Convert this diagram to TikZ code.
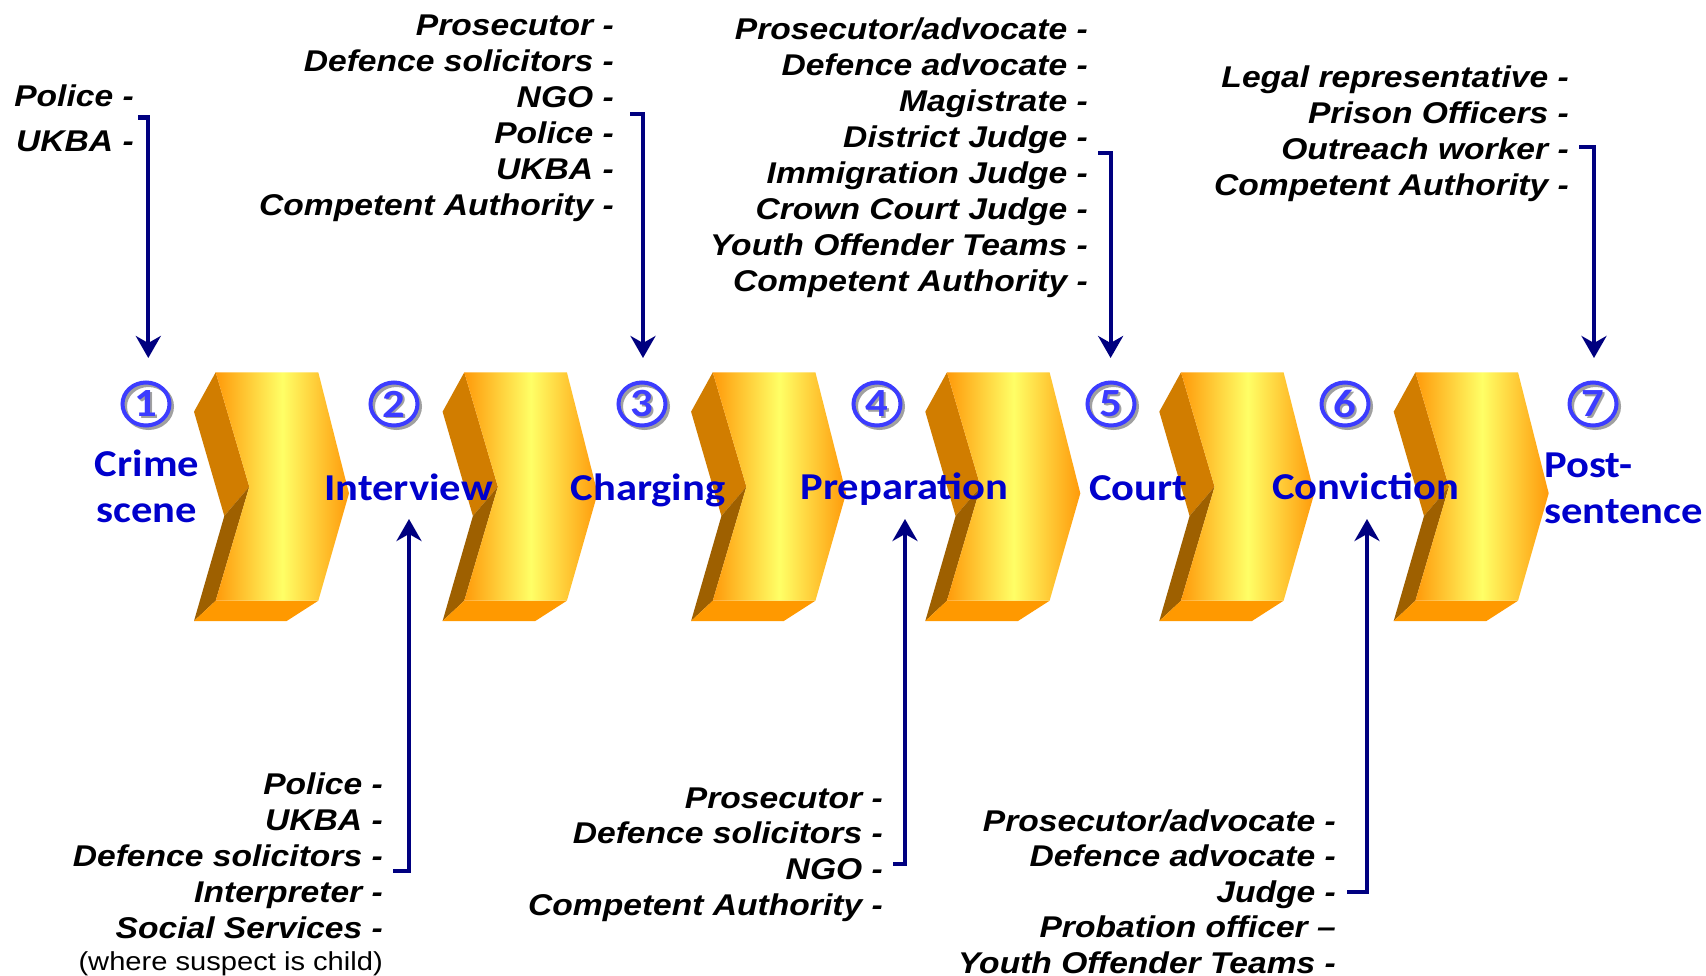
\documentclass[tikz,border=0pt]{standalone}
\usepackage{fontspec}
\usetikzlibrary{arrows.meta}
\newfontfamily\actorfont[FakeStretch=1.12]{Liberation Sans}
\newfontfamily\stagefont[FakeStretch=1.12]{Carlito}
\definecolor{chevor}{RGB}{255,154,10}
\definecolor{chevyel}{RGB}{255,255,102}
\definecolor{chevup}{RGB}{209,125,0}
\definecolor{chevlow}{RGB}{158,96,0}
\definecolor{chevbot}{RGB}{255,153,0}
\definecolor{stageblue}{RGB}{0,0,204}
\definecolor{ringblue}{RGB}{60,60,255}
\definecolor{shadowgray}{RGB}{160,160,160}
\definecolor{navyline}{RGB}{0,0,128}
\tikzset{
  actor/.style={font=\actorfont\fontsize{30}{36}\selectfont\bfseries\itshape, inner sep=0pt, anchor=base east, text=black},
  notetext/.style={font=\actorfont\fontsize{26}{30}\selectfont, inner sep=0pt, anchor=base east, text=black},
  stage/.style={font=\stagefont\fontsize{38}{46}\selectfont\bfseries, text=stageblue, inner sep=0pt, anchor=base},
  numtext/.style={font=\stagefont\fontsize{40}{44}\selectfont\bfseries, inner sep=0pt},
  ring/.style={line width=4pt},
  conn/.style={draw=navyline, line width=4.2pt, line join=miter, -{Stealth[length=22pt,width=25pt,inset=7pt]}}
}
\newcommand\chevronshape[1]{%
  \begin{scope}[shift={(#1,372.3)}]
    \fill[chevup] (0,0) -- (33.6,114.4) -- (8.6,143.7) -- (-21.7,39.4) -- cycle;
    \fill[chevlow] (33.6,114.4) -- (0,228.4) -- (-21.7,248.7) -- (8.6,143.7) -- cycle;
    \fill[chevbot] (0,228.4) -- (102.6,228.4) -- (71,248.7) -- (-21.7,248.7) -- cycle;
    \shade[left color=chevor, right color=chevor, middle color=chevyel]
      (0,0) -- (102.6,0) -- (133.3,121) -- (102.6,228.4) -- (0,228.4) -- (33.6,114.4) -- cycle;
  \end{scope}}
\newcommand\stepnum[3]{%
  \draw[ring, shadowgray] (#2+2.5,406.5) ellipse [x radius=23.5pt, y radius=21.5pt];
  \draw[ring, ringblue] (#2,404) ellipse [x radius=23.5pt, y radius=21.5pt];
  \node[numtext, text=shadowgray] (#1s) at (#2+2,405.5) {#3};
  \node[numtext, text=ringblue] (#1) at (#2,404) {#3};}
\newcommand\actorlist[5]{%
  \foreach \t [count=\i] in {#5} {\node[actor] (#1\i) at (#2,{#3+#4*(\i-1)}) {\t};}}
\begin{document}
\begin{tikzpicture}[x=1pt,y=-1pt]
\useasboundingbox (0,0) rectangle (1706,976);
\fill[white] (0,0) rectangle (1706,976);
% chevrons
\chevronshape{215.7}
\chevronshape{464.3}
\chevronshape{712.8}
\chevronshape{947}
\chevronshape{1181}
\chevronshape{1415.4}
% step numbers
\stepnum{n1}{146}{1}
\stepnum{n2}{394}{2}
\stepnum{n3}{642}{3}
\stepnum{n4}{877}{4}
\stepnum{n5}{1111}{5}
\stepnum{n6}{1345}{6}
\stepnum{n7}{1593}{7}
% stage labels
\node[stage] (s1a) at (147,476) {Crime};
\node[stage] (s1b) at (147,522) {scene};
\node[stage] (s2) at (408.5,500) {Interview};
\node[stage] (s3) at (648,500) {Charging};
\node[stage] (s4) at (904.5,499) {Preparation};
\node[stage] (s5) at (1138.5,500) {Court};
\node[stage] (s6) at (1365.5,499) {Conviction};
\node[stage, anchor=base west] (s7a) at (1544,477) {Post-};
\node[stage, anchor=base west] (s7b) at (1544,523) {sentence};
% actor lists
\actorlist{a}{134}{107}{45}{Police -,UKBA -}
\actorlist{b}{614}{36}{36}{Prosecutor -,Defence solicitors -,NGO -,Police -,UKBA -,Competent Authority -}
\actorlist{c}{1088}{40}{36}{Prosecutor/advocate -,Defence advocate -,Magistrate -,District Judge -,Immigration Judge -,Crown Court Judge -,Youth Offender Teams -,Competent Authority -}
\actorlist{d}{1569}{88}{36}{Legal representative -,Prison Officers -,Outreach worker -,Competent Authority -}
\actorlist{e}{383}{794}{36}{Police -,UKBA -,Defence solicitors -,Interpreter -,Social Services -}
\node[notetext] (enote) at (383,970) {(where suspect is child)};
\actorlist{f}{883}{808}{35.7}{Prosecutor -,Defence solicitors -,NGO -,Competent Authority -}
\actorlist{g}{1336}{831}{35.5}{Prosecutor/advocate -,Defence advocate -,Judge -,Probation officer –,Youth Offender Teams -}
% connectors
\coordinate (a0) at (138,117.5); \coordinate (a1) at (148.3,117.5); \coordinate (a2) at (148.3,358);
\draw[conn] (a0) -- (a1) -- (a2);
\coordinate (b0) at (630,114); \coordinate (b1) at (643,114); \coordinate (b2) at (643,358);
\draw[conn] (b0) -- (b1) -- (b2);
\coordinate (c0) at (1098,153); \coordinate (c1) at (1110.6,153); \coordinate (c2) at (1110.6,358);
\draw[conn] (c0) -- (c1) -- (c2);
\coordinate (d0) at (1579,147); \coordinate (d1) at (1594,147); \coordinate (d2) at (1594,358);
\draw[conn] (d0) -- (d1) -- (d2);
\coordinate (e0) at (393,871); \coordinate (e1) at (409,871); \coordinate (e2) at (409,519);
\draw[conn] (e0) -- (e1) -- (e2);
\coordinate (f0) at (893,864); \coordinate (f1) at (905,864); \coordinate (f2) at (905,519);
\draw[conn] (f0) -- (f1) -- (f2);
\coordinate (g0) at (1347,892); \coordinate (g1) at (1367,892); \coordinate (g2) at (1367,519);
\draw[conn] (g0) -- (g1) -- (g2);
\end{tikzpicture}
\end{document}
